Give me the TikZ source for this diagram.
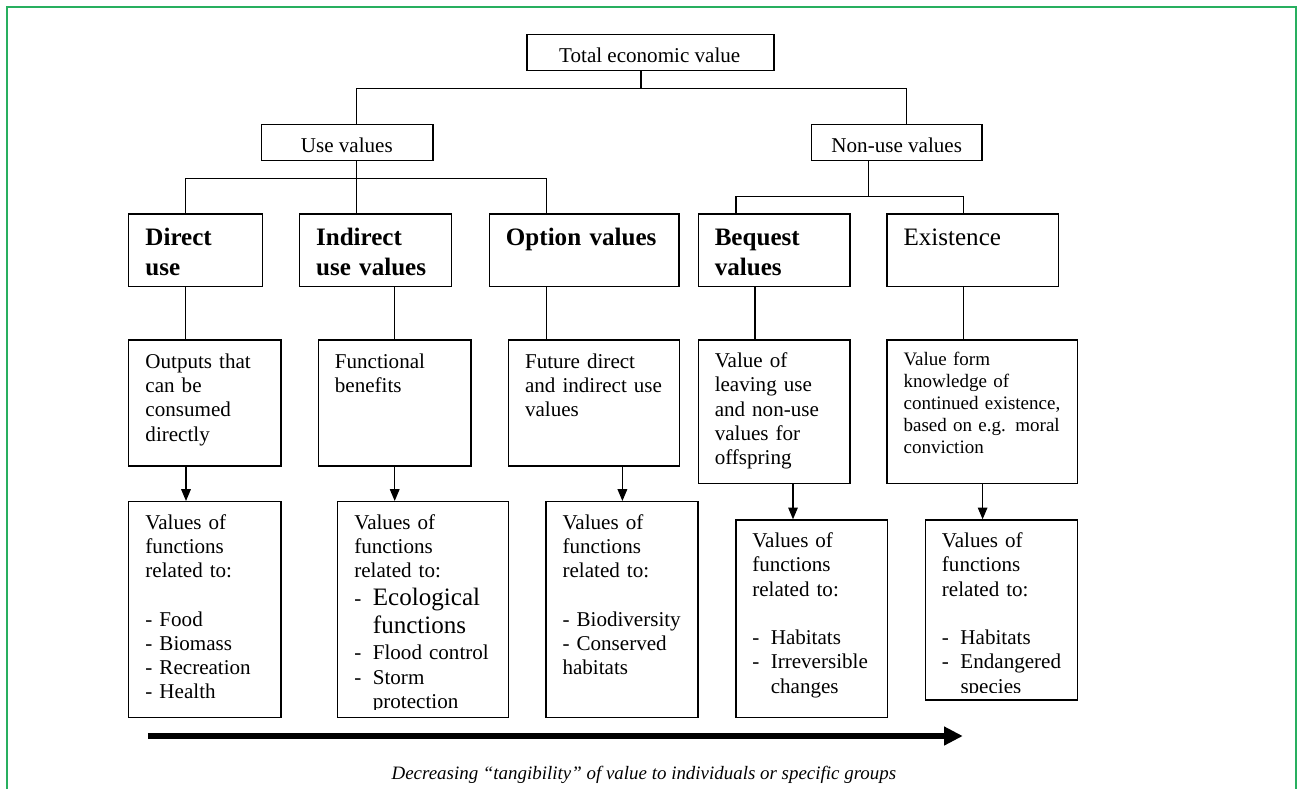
\documentclass[tikz,border=0pt]{standalone}
\usepackage{fontspec}
\setmainfont{Liberation Serif}
\usetikzlibrary{arrows.meta,fit}
\newcommand\itemdash{\makebox[13.9pt][l]{-}}

\begin{document}
\begin{tikzpicture}[x=0.75pt,y=0.75pt,yscale=-1,xscale=1,
  box/.style={draw, line width=1.1pt, inner sep=0pt},
  txt/.style={anchor=base west, inner sep=0pt, text width=240pt, align=left, font=\fontsize{15.8}{18.2}\selectfont},
  head/.style={txt, font=\fontsize{18.8}{22}\selectfont\bfseries},
  title/.style={anchor=base, inner sep=0pt, font=\fontsize{15.8}{18.2}\selectfont},
  link/.style={line width=0.8pt},
  pointer/.style={line width=0.8pt, -{Triangle[length=8.8pt,width=7.2pt]}},
  trend/.style={line width=4.5pt, -{Triangle[length=14pt,width=13.3pt]}}]
\useasboundingbox (0,0) rectangle (1298,789);

%Shape: Frame
\draw [color={rgb, 255:red, 40; green, 175; blue, 95 }, line width=1.5pt] (6.5,789) -- (6.5,7.3) -- (1295.5,7.3) -- (1295.5,789);

%Shape: Rectangle - top levels
\node [box, fit={(527,34.3) (774,70.7)}] (tev) {};
\node [box, fit={(261.6,124.7) (432.8,160.7)}] (usev) {};
\node [box, fit={(811.6,124.7) (982.2,160.7)}] (nonuse) {};
%Shape: Rectangle - value types
\node [box, fit={(128.7,214) (262.3,286.7)}] (direct) {};
\node [box, fit={(299.6,214) (451.6,286.7)}] (indirect) {};
\node [box, fit={(489.4,214) (679.2,286.7)}] (option) {};
\node [box, fit={(698.3,214) (850,286.7)}] (bequest) {};
\node [box, fit={(887.2,214) (1058.3,286.7)}] (exist) {};
%Shape: Rectangle - descriptions
\node [box, fit={(128.7,340) (281,466)}] (outputs) {};
\node [box, fit={(318.5,340) (470.8,466)}] (benefits) {};
\node [box, fit={(508.3,340) (679.4,466)}] (future) {};
\node [box, fit={(698.3,340) (850,483.7)}] (offspring) {};
\node [box, fit={(887.2,340) (1077.7,483.7)}] (moral) {};
%Shape: Rectangle - functions
\node [box, fit={(128.7,501.7) (281,717.5)}] (fn-direct) {};
\node [box, fit={(337.7,501.7) (508.7,717.5)}] (fn-indirect) {};
\node [box, fit={(546.2,501.7) (697.8,717.5)}] (fn-option) {};
\node [box, fit={(736,520) (887.6,717.5)}] (fn-bequest) {};
\node [box, fit={(925.6,520) (1077.7,700)}] (fn-exist) {};

% Text Node
\node [title] (tev-t) at (649.7,62.7) {Total economic value};
\node [title] (usev-t) at (346.8,152) {Use values};
\node [title] (nonuse-t) at (896.7,152) {Non-use values};
% Text Node
\node [head] (direct-t) at (145.2,245.7) {Direct\\ use};
\node [head] (indirect-t) at (315.8,245.7) {Indirect\\ use values};
\node [head] (option-t) at (505.7,245.7) {Option values};
\node [head] (bequest-t) at (714.5,245.7) {Bequest\\ values};
\node [txt, font=\fontsize{18.8}{22}\selectfont] (exist-t) at (903.3,245.7) {Existence};
% Text Node
\node [txt] (outputs-t) at (145.2,368.3) {Outputs that\\ can be\\ consumed\\ directly};
\node [txt] (benefits-t) at (334.6,368.3) {Functional\\ benefits};
\node [txt] (future-t) at (524.8,368.3) {Future direct\\ and indirect use\\ values};
\node [txt] (offspring-t) at (714.5,367.7) {Value of\\ leaving use\\ and non-use\\ values for\\ offspring};
\node [txt, font=\fontsize{14.25}{16.5}\selectfont] (moral-t) at (903.3,365.7) {Value form\\ knowledge of\\ continued existence,\\ based on e.g. moral\\ conviction};
% Text Node
\node [txt] (fn-direct-t) at (145.2,529) {Values of\\ functions\\ related to:\\[18.2pt] - Food\\ - Biomass\\ - Recreation\\ - Health};
\begin{scope}
\clip (337.7,501.7) rectangle (508.7,709);
\node [txt] (fn-indirect-t) at (354.1,529) {Values of\\ functions\\ related to:\\[2.8pt] \itemdash{\fontsize{18.8}{22}\selectfont Ecological}\\[2.5pt] \hspace*{13.9pt}{\fontsize{18.8}{22}\selectfont functions}\\[1.8pt] \itemdash Flood control\\ \itemdash Storm\\ \hspace*{13.9pt}protection};
\end{scope}
\node [txt] (fn-option-t) at (562.3,529) {Values of\\ functions\\ related to:\\[18.2pt] - Biodiversity\\ - Conserved\\ habitats};
\node [txt] (fn-bequest-t) at (752,547.5) {Values of\\ functions\\ related to:\\[18.2pt] \itemdash Habitats\\ \itemdash Irreversible\\ \hspace*{13.9pt}changes};
\begin{scope}
\clip (925.6,520) rectangle (1077.7,692);
\node [txt] (fn-exist-t) at (941.7,547.5) {Values of\\ functions\\ related to:\\[18.2pt] \itemdash Habitats\\ \itemdash Endangered\\ \hspace*{13.9pt}species};
\end{scope}

%Straight Lines - tree
\coordinate (j-top) at (641,88.3);
\coordinate (j-use) at (356.5,88.3);
\coordinate (j-non) at (906.6,88.3);
\draw [link] (tev.south -| j-top) -- (j-top);
\draw [link] (usev.north -| j-use) |- (j-non) -- (nonuse.north -| j-non);
\coordinate (u-mid) at (356.5,178.7);
\coordinate (u-left) at (185.7,178.7);
\coordinate (u-right) at (546.2,178.7);
\draw [link] (usev.south -| u-mid) -- (indirect.north -| u-mid);
\draw [link] (direct.north -| u-left) |- (u-right) -- (option.north -| u-right);
\coordinate (n-mid) at (868.6,196.7);
\coordinate (n-left) at (736,196.7);
\coordinate (n-right) at (963.2,196.7);
\draw [link] (nonuse.south -| n-mid) -- (n-mid);
\draw [link] (bequest.north -| n-left) |- (n-right) -- (exist.north -| n-right);
%Straight Lines - stems
\coordinate (s1) at (185.7,0);
\coordinate (s2) at (394.7,0);
\coordinate (s3) at (546.2,0);
\coordinate (s4) at (755,0);
\coordinate (s5) at (963.2,0);
\draw [link] (direct.south -| s1) -- (outputs.north -| s1);
\draw [link] (indirect.south -| s2) -- (benefits.north -| s2);
\draw [link] (option.south -| s3) -- (future.north -| s3);
\draw [link] (bequest.south -| s4) -- (offspring.north -| s4);
\draw [link] (exist.south -| s5) -- (moral.north -| s5);
%Straight Lines - arrows
\coordinate (a1) at (186,0);
\coordinate (a2) at (394.7,0);
\coordinate (a3) at (622.4,0);
\coordinate (a4) at (793,0);
\coordinate (a5) at (982.6,0);
\draw [pointer] (outputs.south -| a1) -- (fn-direct.north -| a1);
\draw [pointer] (benefits.south -| a2) -- (fn-indirect.north -| a2);
\draw [pointer] (future.south -| a3) -- (fn-option.north -| a3);
\draw [pointer] (offspring.south -| a4) -- (fn-bequest.north -| a4);
\draw [pointer] (moral.south -| a5) -- (fn-exist.north -| a5);

%Straight Lines - tangibility
\coordinate (t-start) at (147.8,736);
\coordinate (t-end) at (962.8,736);
\draw [trend] (t-start) -- (t-end);
% Text Node
\node [anchor=base, inner sep=0pt, font=\fontsize{14.2}{17}\selectfont\itshape] (caption) at (643.9,779.5) {Decreasing ``tangibility'' of value to individuals or specific groups};

\end{tikzpicture}
\end{document}
